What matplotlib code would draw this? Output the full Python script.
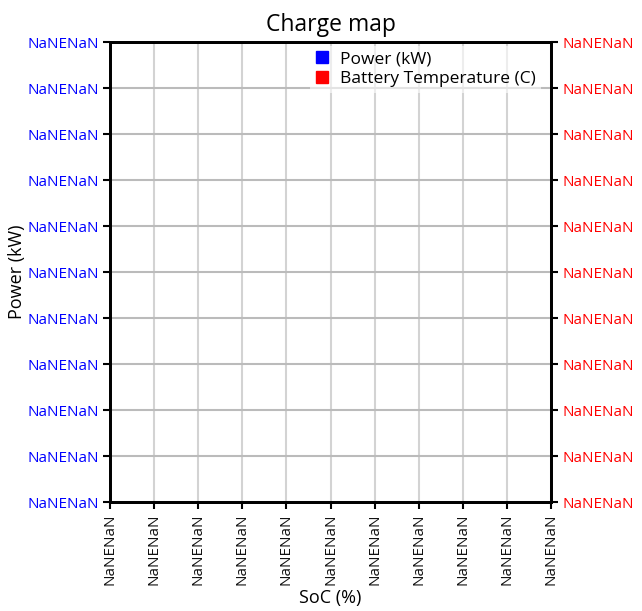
import matplotlib
matplotlib.use("Agg")
import matplotlib.pyplot as plt
from matplotlib.lines import Line2D

plt.rcParams['font.family'] = ['Open Sans', 'DejaVu Sans']

# Data (the source chart has no valid values; all tick labels read "NaNENaN")
soc = []
power = []
battery_temp = []
x_tick_labels = ["NaNENaN", "NaNENaN", "NaNENaN", "NaNENaN", "NaNENaN", "NaNENaN",
                 "NaNENaN", "NaNENaN", "NaNENaN", "NaNENaN", "NaNENaN"]
y_left_tick_labels = ["NaNENaN", "NaNENaN", "NaNENaN", "NaNENaN", "NaNENaN", "NaNENaN",
                      "NaNENaN", "NaNENaN", "NaNENaN", "NaNENaN", "NaNENaN"]
y_right_tick_labels = ["NaNENaN", "NaNENaN", "NaNENaN", "NaNENaN", "NaNENaN", "NaNENaN",
                       "NaNENaN", "NaNENaN", "NaNENaN", "NaNENaN", "NaNENaN"]
series_names = ["Power (kW)", "Battery Temperature (C)"]
series_colors = ["#0000ff", "#ff0000"]

W, H = 642, 611
fig = plt.figure(figsize=(W / 100, H / 100), dpi=100)
left, right, top, bottom = 110, 551, 42, 502
ax = fig.add_axes([left / W, 1 - bottom / H, (right - left) / W, (bottom - top) / H])
ax2 = ax.twinx()

ax.plot(soc, power, color=series_colors[0])
ax2.plot(soc, battery_temp, color=series_colors[1])

n = len(x_tick_labels)
ax.set_xlim(0, n - 1)
ax.set_ylim(0, len(y_left_tick_labels) - 1)
ax2.set_ylim(0, len(y_right_tick_labels) - 1)
ax.set_xticks(range(n))
ax.set_xticklabels(x_tick_labels, rotation=90, fontsize=11, color='#111111')
ax.set_yticks(range(len(y_left_tick_labels)))
ax.set_yticklabels(y_left_tick_labels, fontsize=11, color=series_colors[0])
ax2.set_yticks(range(len(y_right_tick_labels)))
ax2.set_yticklabels(y_right_tick_labels, fontsize=11, color=series_colors[1])

for a in (ax, ax2):
    for s in a.spines.values():
        s.set_color('black')
        s.set_linewidth(2)
    a.tick_params(length=5, width=1.5, color='black', pad=3)

# grids
for i in range(n):
    ax.axvline(i, color='#d3d3d3', lw=1.5, zorder=0)
for j in range(len(y_left_tick_labels)):
    ax.axhline(j, color='#bbbbbb', lw=1.5, zorder=0)

ax.set_title("Charge map", fontsize=16.5, pad=8)
ax.set_xlabel("SoC (%)", fontsize=13, labelpad=3)
ax.set_ylabel("Power (kW)", fontsize=13, labelpad=1)

handles = [Line2D([], [], ls='none', marker='s', markersize=9, color=c) for c in series_colors]
leg = ax2.legend(handles, series_names, loc='upper right', bbox_to_anchor=(0.996, 1.01),
                 frameon=True, fontsize=12.5, handlelength=0.8, handletextpad=0.6,
                 labelspacing=0.22, borderpad=0.3)
leg.get_frame().set_facecolor('white')
leg.get_frame().set_edgecolor('none')
leg.get_frame().set_alpha(0.6)

fig.savefig("out.png", dpi=100)
